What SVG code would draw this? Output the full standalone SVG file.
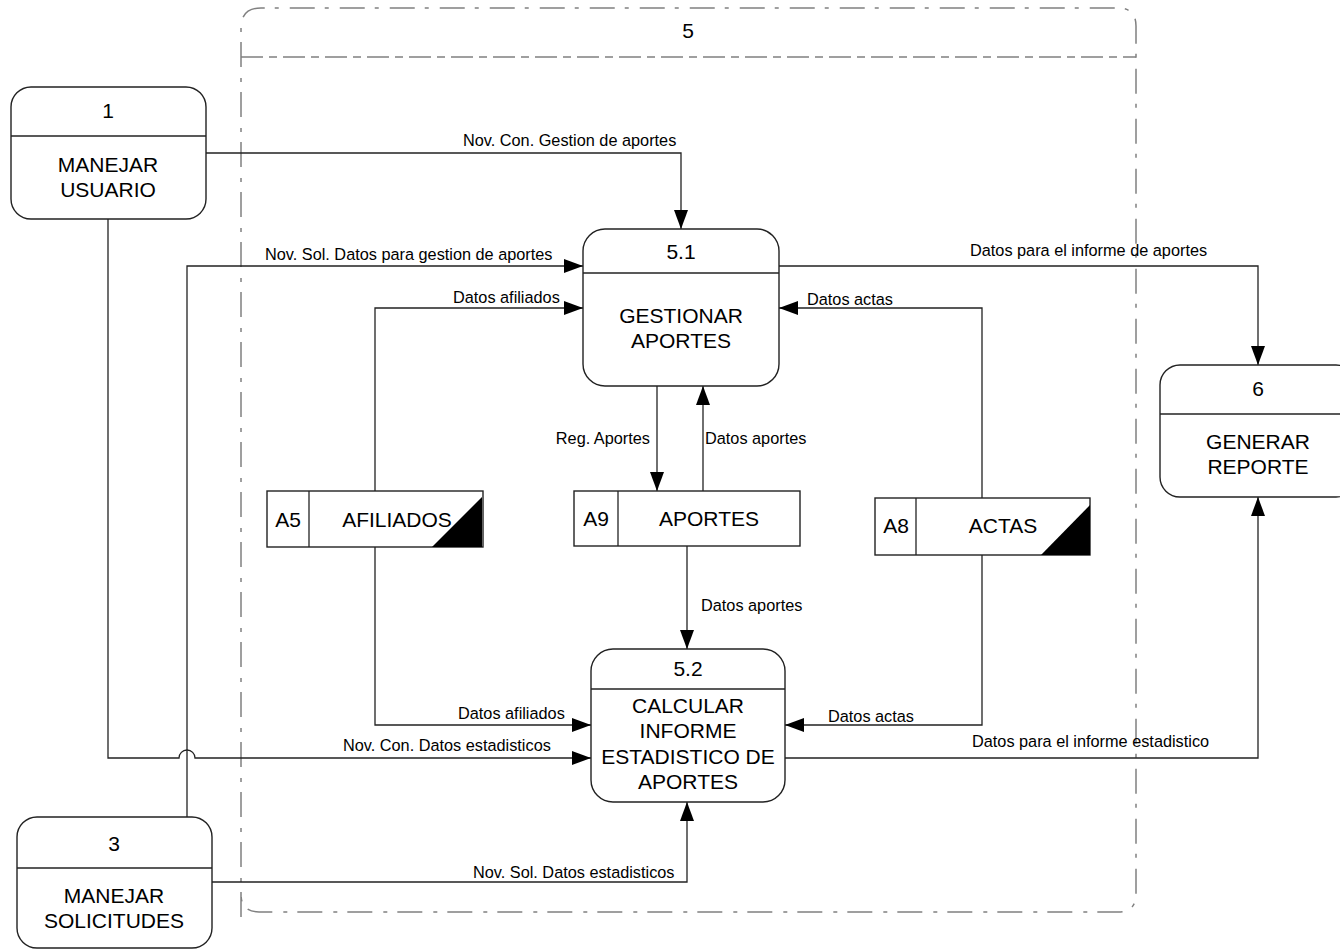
<svg xmlns="http://www.w3.org/2000/svg" width="1340" height="950" viewBox="0 0 1340 950">
  <style>
    text { font-family: "Liberation Sans", Arial, sans-serif; fill: #000; }
    .node { fill: #fff; stroke: #222; stroke-width: 1.4; }
    .div { stroke: #222; stroke-width: 1.3; fill: none; }
    .big { font-size: 21px; text-anchor: middle; }
    .lbl { font-size: 16.3px; }
    .flow { fill: none; stroke: #222; stroke-width: 1.3; }
    .frame { fill: none; stroke: #808080; stroke-width: 1.5; stroke-dasharray: 25 10 4 11; }
    .frame-div { fill: none; stroke: #808080; stroke-width: 1.3; stroke-dasharray: 22 6 8 6; }
  </style>
  <defs>
    <marker id="arrow" viewBox="0 0 19 14" refX="19" refY="7" markerWidth="19" markerHeight="14" markerUnits="userSpaceOnUse" orient="auto">
      <path d="M0,0 L19,7 L0,14 Z" fill="#000"/>
    </marker>
  </defs>

  <rect width="1340" height="950" fill="#fff"/>

  <!-- process 5 frame -->
  <g id="frame5">
    <path class="frame" d="M241,917 V28 Q241,8 261,8 H1118 Q1136,8 1136,26 V894 Q1136,912 1118,912 H259 Q241,912 241,894"/>
    <line class="frame-div" x1="241" y1="57" x2="1136" y2="57"/>
    <text class="big" x="688" y="38">5</text>
  </g>

  <!-- connectors -->
  <g id="connectors">
    <path class="flow" d="M206,153 H681 V229" marker-end="url(#arrow)"/>
    <text class="lbl" x="463" y="146">Nov. Con. Gestion de aportes</text>

    <path class="flow" d="M187,817 V266 H583" marker-end="url(#arrow)"/>
    <text class="lbl" x="265" y="260">Nov. Sol. Datos para gestion de aportes</text>

    <path class="flow" d="M108,219 V758 H179 A8,8 0 0 1 195,758 H591" marker-end="url(#arrow)"/>
    <text class="lbl" x="343" y="751">Nov. Con. Datos estadisticos</text>

    <path class="flow" d="M212,882 H687 V802" marker-end="url(#arrow)"/>
    <text class="lbl" x="473" y="878">Nov. Sol. Datos estadisticos</text>

    <path class="flow" d="M779,266 H1258 V365" marker-end="url(#arrow)"/>
    <text class="lbl" x="970" y="256">Datos para el informe de aportes</text>

    <path class="flow" d="M785,758 H1258 V497" marker-end="url(#arrow)"/>
    <text class="lbl" x="972" y="747">Datos para el informe estadistico</text>

    <path class="flow" d="M375,491 V308 H583" marker-end="url(#arrow)"/>
    <text class="lbl" x="453" y="303">Datos afiliados</text>

    <path class="flow" d="M982,498 V308 H779" marker-end="url(#arrow)"/>
    <text class="lbl" x="807" y="305">Datos actas</text>

    <path class="flow" d="M657,386 V491" marker-end="url(#arrow)"/>
    <text class="lbl" x="650" y="444" text-anchor="end">Reg. Aportes</text>

    <path class="flow" d="M703,491 V386" marker-end="url(#arrow)"/>
    <text class="lbl" x="705" y="444">Datos aportes</text>

    <path class="flow" d="M687,546 V649" marker-end="url(#arrow)"/>
    <text class="lbl" x="701" y="611">Datos aportes</text>

    <path class="flow" d="M375,547 V725 H591" marker-end="url(#arrow)"/>
    <text class="lbl" x="458" y="719">Datos afiliados</text>

    <path class="flow" d="M982,555 V725 H785" marker-end="url(#arrow)"/>
    <text class="lbl" x="828" y="722">Datos actas</text>
  </g>

  <!-- external processes -->
  <g id="node-1">
    <rect class="node" x="11" y="87" width="195" height="132" rx="20"/>
    <line class="div" x1="11" y1="136" x2="206" y2="136"/>
    <text class="big" x="108" y="118">1</text>
    <text class="big" x="108" y="172">MANEJAR</text>
    <text class="big" x="108" y="197">USUARIO</text>
  </g>

  <g id="node-3">
    <rect class="node" x="17" y="817" width="195" height="131" rx="20"/>
    <line class="div" x1="17" y1="868" x2="212" y2="868"/>
    <text class="big" x="114" y="851">3</text>
    <text class="big" x="114" y="903">MANEJAR</text>
    <text class="big" x="114" y="928">SOLICITUDES</text>
  </g>

  <g id="node-6">
    <rect class="node" x="1160" y="365" width="196" height="132" rx="20"/>
    <line class="div" x1="1160" y1="414" x2="1356" y2="414"/>
    <text class="big" x="1258" y="396">6</text>
    <text class="big" x="1258" y="449">GENERAR</text>
    <text class="big" x="1258" y="474">REPORTE</text>
  </g>

  <!-- sub-processes -->
  <g id="node-5-1">
    <rect class="node" x="583" y="229" width="196" height="157" rx="22"/>
    <line class="div" x1="583" y1="273" x2="779" y2="273"/>
    <text class="big" x="681" y="259">5.1</text>
    <text class="big" x="681" y="323">GESTIONAR</text>
    <text class="big" x="681" y="348">APORTES</text>
  </g>

  <g id="node-5-2">
    <rect class="node" x="591" y="649" width="194" height="153" rx="22"/>
    <line class="div" x1="591" y1="689" x2="785" y2="689"/>
    <text class="big" x="688" y="676">5.2</text>
    <text class="big" x="688" y="713">CALCULAR</text>
    <text class="big" x="688" y="738">INFORME</text>
    <text class="big" x="688" y="764">ESTADISTICO DE</text>
    <text class="big" x="688" y="789">APORTES</text>
  </g>

  <!-- data stores -->
  <g id="store-a5">
    <rect class="node" x="267" y="491" width="216" height="56"/>
    <line class="div" x1="309" y1="491" x2="309" y2="547"/>
    <polygon points="432,547 482,497 482,547" fill="#000"/>
    <text class="big" x="288" y="527">A5</text>
    <text class="big" x="397" y="527">AFILIADOS</text>
  </g>

  <g id="store-a9">
    <rect class="node" x="574" y="491" width="226" height="55"/>
    <line class="div" x1="618" y1="491" x2="618" y2="546"/>
    <text class="big" x="596" y="526">A9</text>
    <text class="big" x="709" y="526">APORTES</text>
  </g>

  <g id="store-a8">
    <rect class="node" x="875" y="498" width="215" height="57"/>
    <line class="div" x1="916" y1="498" x2="916" y2="555"/>
    <polygon points="1041,555 1090,505 1090,555" fill="#000"/>
    <text class="big" x="896" y="533">A8</text>
    <text class="big" x="1003" y="533">ACTAS</text>
  </g>
</svg>
